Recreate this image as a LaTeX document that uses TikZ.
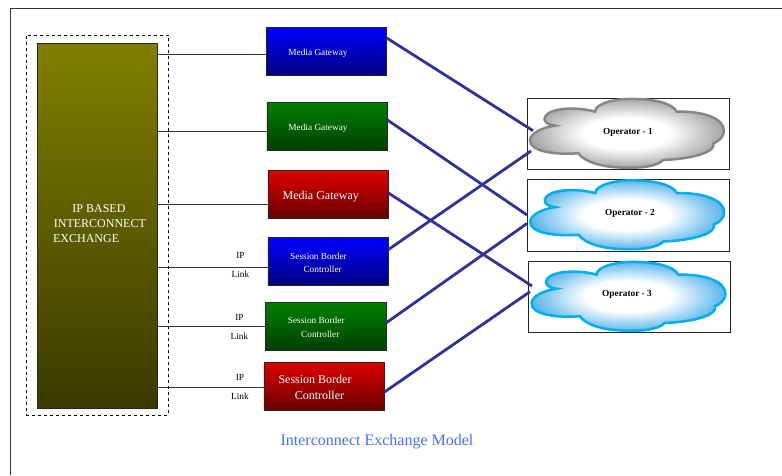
\documentclass[tikz,border=0pt]{standalone}
\usepackage{fontspec}
\setmainfont{Liberation Serif}
\definecolor{linkblue}{RGB}{50,50,150}
\definecolor{captionblue}{RGB}{70,110,255}
\definecolor{cloudgray}{RGB}{135,135,135}
\definecolor{cloudblue}{RGB}{0,175,235}
\definecolor{cloudgrayfill}{RGB}{165,165,165}
\definecolor{cloudbluefill}{RGB}{90,180,235}
\pgfdeclareradialshading{grayshade}{\pgfpoint{0bp}{0bp}}{color(0bp)=(white); color(11bp)=(white); color(25bp)=(cloudgrayfill); color(50bp)=(cloudgrayfill)}
\pgfdeclareradialshading{blueshade}{\pgfpoint{0bp}{0bp}}{color(0bp)=(white); color(11bp)=(white); color(25bp)=(cloudbluefill); color(50bp)=(cloudbluefill)}
\tikzset{
  colorbox/.style={draw=black!85, line width=0.8pt, rectangle, inner sep=0pt, outer sep=0pt, minimum width=120.5pt, minimum height=48pt},
  bluebox/.style={colorbox, top color=blue, bottom color=blue!50!black},
  greenbox/.style={colorbox, top color=green!50!black, bottom color=green!25!black},
  redbox/.style={colorbox, top color=red!88!black, bottom color=red!40!black},
  opbox/.style={draw=black!85, line width=0.9pt, rectangle, inner sep=0pt, outer sep=0pt, minimum width=202pt, minimum height=71.5pt},
  smalltext/.style={text=white, inner sep=0pt, align=left, font=\fontsize{9.3}{13}\selectfont},
  bigtext/.style={text=white, inner sep=0pt, align=left, font=\fontsize{12}{16}\selectfont},
  linktext/.style={inner sep=0pt, align=center, font=\fontsize{9.3}{19}\selectfont},
  optext/.style={inner sep=0pt, font=\fontsize{9.3}{11}\selectfont\bfseries},
  tieline/.style={black!80, line width=0.9pt},
  crossline/.style={linkblue, line width=2.8pt},
  opcloud/.pic={
    \path[draw=cloud#1, line width=2.5pt, shading=#1shade]
      (90,165) .. controls (92,145) and (125,128) .. (165,122)
      .. controls (125,118) and (125,92) .. (155,80)
      .. controls (190,66) and (250,70) .. (285,80)
      .. controls (285,55) and (350,40) .. (400,42)
      .. controls (470,42) and (520,58) .. (530,80)
      .. controls (610,78) and (672,100) .. (672,138)
      .. controls (672,155) and (655,170) .. (640,175)
      .. controls (650,200) and (580,222) .. (490,225)
      .. controls (470,245) and (420,250) .. (375,248)
      .. controls (310,248) and (255,232) .. (235,205)
      .. controls (165,210) and (88,200) .. (90,165) -- cycle;
  }
}
\begin{document}
\begin{tikzpicture}[x=1pt, y=-1pt]
\useasboundingbox (0, 0) rectangle (782, 475);
\coordinate (frametop) at (782, 8);
\coordinate (framecorner) at (10, 8);
\coordinate (framebottom) at (10, 475);
\draw [black!80, line width=0.9pt] (frametop) -- (framecorner) -- (framebottom);

% exchange
\node [draw=black, dashed, line width=0.8pt, inner sep=0pt, minimum width=142pt, minimum height=380.5pt] (zone) at (97, 225.2) {};
\node [draw=black!85, line width=0.8pt, inner sep=0pt, outer sep=0pt, minimum width=120.5pt, minimum height=365pt, top color=olive!100!black, bottom color=olive!45!black, shading angle=0] (ipx) at (97.3, 226.3) {};
\node [text=white, inner sep=0pt, align=left, font=\fontsize{12}{15}\selectfont] (ipxtext) at (99.5, 224) {\hspace*{19.3pt}IP BASED\\\hspace*{0.7pt}INTERCONNECT\\EXCHANGE};

% gateways
\node [bluebox] (mga) at (326.5, 51.5) {};
\node [smalltext] (mgatext) at (318, 53) {Media Gateway};
\node [greenbox] (mgb) at (327.2, 126.8) {};
\node [smalltext] (mgbtext) at (318, 128) {Media Gateway};
\node [redbox] (mgc) at (328.2, 194.3) {};
\node [bigtext] (mgctext) at (320.8, 196.5) {Media Gateway};

% border controllers
\node [bluebox] (sbca) at (328.2, 261.8) {};
\node [smalltext] (sbcatext) at (318.5, 263) {Session Border\\\hspace*{13.3pt}Controller};
\node [greenbox] (sbcb) at (325.7, 326.8) {};
\node [smalltext, font=\fontsize{9.3}{14}\selectfont] (sbcbtext) at (316.2, 327.5) {Session Border\\\hspace*{13.3pt}Controller};
\node [redbox] (sbcc) at (324.2, 386) {};
\node [bigtext] (sbcctext) at (315, 387.5) {Session Border\\\hspace*{16.3pt}Controller};

% operators
\node [opbox] (opa) at (628, 133.7) {};
\pic at (opa.north west) [scale=1/3, xshift=-81, yshift=39] {opcloud=gray};
\node [optext] (opatext) at (628, 132) {Operator - 1};
\node [opbox] (opb) at (628.2, 215.2) {};
\pic at (opb.north west) [scale=1/3, xshift=-81, yshift=39] {opcloud=blue};
\node [optext] (opbtext) at (630, 213) {Operator - 2};
\node [opbox] (opc) at (629.5, 296.7) {};
\pic at (opc.north west) [scale=1/3, xshift=-81, yshift=39] {opcloud=blue};
\node [optext] (opctext) at (627, 294) {Operator - 3};

% links
\draw [tieline] (ipx.east |- 0, 54) -- (mga.west |- 0, 54);
\draw [tieline] (ipx.east |- 0, 131.5) -- (mgb.west |- 0, 131.5);
\draw [tieline] (ipx.east |- 0, 204.5) -- (mgc.west |- 0, 204.5);
\draw [tieline] (ipx.east |- 0, 267.5) -- (sbca.west |- 0, 267.5);
\draw [tieline, line width=1.2pt] (ipx.east |- 0, 326.5) -- (sbcb.west |- 0, 326.5);
\draw [tieline] (ipx.east |- 0, 387.5) -- (sbcc.west |- 0, 387.5);
\node [linktext] (linka) at (240.5, 264.5) {IP\\Link};
\node [linktext] (linkb) at (239.5, 326.5) {IP\\Link};
\node [linktext] (linkc) at (240, 386.5) {IP\\Link};

\coordinate (opain) at (533, 130.7);
\coordinate (opaout) at (531, 151);
\coordinate (opbin) at (527, 215);
\coordinate (opbout) at (527, 223.5);
\coordinate (opcin) at (532, 286);
\coordinate (opcout) at (530, 291.7);
\draw [crossline] (mga.east |- 0, 38) -- (opain);
\draw [crossline] (mgb.east |- 0, 120) -- (opbin);
\draw [crossline] (mgc.east |- 0, 193) -- (opcin);
\draw [crossline] (sbca.east |- 0, 249.5) -- (opaout);
\draw [crossline] (sbcb.east |- 0, 323) -- (opbout);
\draw [crossline] (sbcc.east |- 0, 392) -- (opcout);

\node [text=captionblue, inner sep=0pt, font=\fontsize{16}{18}\selectfont] (caption) at (377, 442) {Interconnect Exchange Model};
\end{tikzpicture}
\end{document}
